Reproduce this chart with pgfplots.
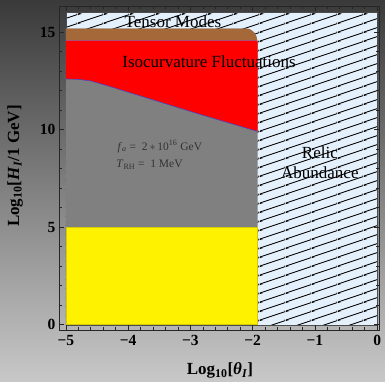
\documentclass[border=0pt]{standalone}
\usepackage{fontspec}
\setmainfont{Liberation Serif}
\usepackage{pgfplots}
\pgfplotsset{compat=1.18}
\usetikzlibrary{patterns}
\definecolor{hatchbg}{RGB}{228,240,252}
\definecolor{brownband}{RGB}{165,104,56}
\definecolor{grayreg}{RGB}{128,128,128}
\definecolor{bgtop}{RGB}{58,58,58}
\definecolor{bgbot}{RGB}{200,200,200}
\definecolor{yelline}{RGB}{215,200,0}
\pgfdeclarepatternformonly{relichatch}{\pgfqpoint{0pt}{0pt}}{\pgfqpoint{26.1pt}{8.7pt}}{\pgfqpoint{26.1pt}{8.7pt}}{%
  \pgfsetlinewidth{0.9pt}%
  \pgfpathmoveto{\pgfqpoint{0pt}{0pt}}\pgfpathlineto{\pgfqpoint{26.1pt}{8.7pt}}%
  \pgfpathmoveto{\pgfqpoint{0pt}{8.7pt}}\pgfpathlineto{\pgfqpoint{26.1pt}{17.4pt}}%
  \pgfpathmoveto{\pgfqpoint{0pt}{-8.7pt}}\pgfpathlineto{\pgfqpoint{26.1pt}{0pt}}%
  \pgfusepath{stroke}%
}
\begin{document}
\begin{tikzpicture}
\shade[top color=bgtop, bottom color=bgbot] (0,0) rectangle (385pt,381pt);
\begin{axis}[
  at={(59pt,51pt)}, anchor=south west,
  scale only axis, width=320pt, height=324pt,
  xmin=-5.11, xmax=0.03, ymin=-0.27, ymax=16.34,
  axis on top,
  xtick={-5,-4,-3,-2,-1,0}, xticklabels={−5,−4,−3,−2,−1,0},
  ytick={0,5,10,15}, yticklabels={0,5,10,15},
  minor x tick num=4, minor y tick num=4,
  tick align=inside,
  major tick length=5pt, minor tick length=3pt,
  axis line style={black!85, line width=0.8pt},
  tick style={black!85, line width=0.6pt},
  ticklabel style={font=\fontsize{15.5}{15.5}\selectfont\bfseries},
  xticklabel style={yshift=-2pt},
  /pgf/number format/assume math mode=true,
  xlabel={Log\textsubscript{10}[\textit{θ}\textsubscript{\textit{I}}]},
  ylabel={Log\textsubscript{10}[\textit{H}\textsubscript{\textit{I}}/1 GeV]},
  label style={font=\fontsize{17}{17}\selectfont\bfseries},
  xlabel style={at={(axis description cs:0.503,-0.125)}, anchor=center},
  ylabel style={at={(axis description cs:-0.1375,0.506)}, anchor=center, rotate=0},
]
% hatched region (relic abundance + tensor modes)
\addplot[fill=hatchbg, draw=black!70, line width=0.4pt,
  postaction={pattern=relichatch}]
  coordinates {(-5,0) (0,0) (0,16) (-5,16)} -- cycle;
% allowed gray region
\addplot[fill=grayreg, draw=none]
  coordinates {(-5,0) (-1.92,0) (-1.92,14.46) (-1.944,14.82) (-1.973,14.97) (-2.01,15.08) (-2.053,15.155) (-2.10,15.18) (-5,15.18)} -- cycle;
% yellow
\addplot[fill=yellow, draw=yelline, line width=0.5pt]
  coordinates {(-5,0) (-1.92,0) (-1.92,5) (-5,5)} -- cycle;
% red isocurvature
\addplot[fill=red, draw=none]
  coordinates {(-5,12.6) (-4.8,12.58) (-4.6,12.5) (-4.3,12.22) (-3.5,11.43) (-2.85,10.79) (-1.92,9.91) (-1.92,14.46) (-1.925,14.58) (-5,14.58)} -- cycle;
\addplot[color={rgb,255:red,70;green,70;blue,200}, line width=0.6pt]
  coordinates {(-5,12.6) (-4.8,12.58) (-4.6,12.5) (-4.3,12.22) (-3.5,11.43) (-2.85,10.79) (-1.92,9.91)};
% brown tensor band
\addplot[fill=brownband, draw=none]
  coordinates {(-5,14.58) (-1.925,14.58) (-1.944,14.82) (-1.973,14.97) (-2.01,15.08) (-2.053,15.155) (-2.10,15.18) (-5,15.18)} -- cycle;
\addplot[color={rgb,255:red,170;green,80;blue,120}, line width=0.4pt]
  coordinates {(-5,14.58) (-1.925,14.58)};
% labels
\node[font=\fontsize{17}{17}\selectfont] at (axis cs:-3.28,15.55) {Tensor Modes};
\node[font=\fontsize{17}{17}\selectfont] at (axis cs:-2.70,13.49) {Isocurvature Fluctuations};
\node[font=\fontsize{17}{17}\selectfont] at (axis cs:-0.92,8.82) {Relic};
\node[font=\fontsize{17}{17}\selectfont] at (axis cs:-0.92,7.81) {Abundance};
\node[anchor=west, text=black!80, font=\fontsize{11.5}{11.5}\selectfont, inner sep=0pt] at (axis cs:-4.17,9.14) {\textit{f}\textsubscript{\textit{a}} =\ \ 2\,$*$\,10\textsuperscript{16} GeV};
\node[anchor=west, text=black!80, font=\fontsize{11.5}{11.5}\selectfont, inner sep=0pt] at (axis cs:-4.19,8.2) {\textit{T}\textsubscript{RH} =\ \ 1 MeV};
\end{axis}
\pgfresetboundingbox
\useasboundingbox (0,0) rectangle (385pt,381pt);
\end{tikzpicture}
\end{document}
